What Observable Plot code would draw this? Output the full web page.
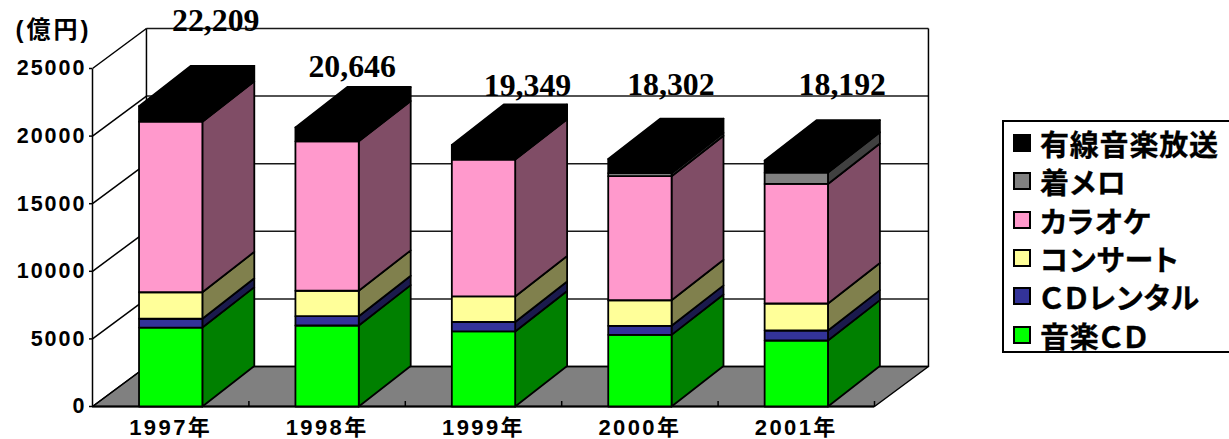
<!DOCTYPE html>
<html lang="ja">
<head>
<meta charset="utf-8">
<script src="https://cdn.jsdelivr.net/npm/d3@7"></script>
<script src="https://cdn.jsdelivr.net/npm/@observablehq/plot@0.6"></script>
<style>
  html, body { margin: 0; padding: 0; background: #fff; }
  body { position: relative; width: 1229px; height: 439px; overflow: hidden; }
  #chart svg { display: block; }
  g[aria-label="y-axis tick label"] text { letter-spacing: 2px; }
  #legend {
    position: absolute; left: 1002px; top: 120px; width: 240px; height: 229px;
    border: 2px solid #000; box-sizing: content-box; background: #fff;
    font: 700 29px "Noto Sans CJK JP", sans-serif; letter-spacing: 0.8px; color: #000;
    font-feature-settings: "palt"; -webkit-text-stroke: 0.3px #000;
  }
  #legend div { position: absolute; left: 9px; height: 38px; display: flex; align-items: center; white-space: nowrap; }
  #legend i { display: inline-block; width: 14px; height: 14px; border: 2px solid #000; margin-right: 9px; flex: none; }
</style>
</head>
<body>
<div id="chart"></div>
<div id="legend"></div>
<script>
// Japanese music market by segment, 100 million yen
const years = ["1997年", "1998年", "1999年", "2000年", "2001年"];
const musicCd = [5840, 5990, 5550, 5300, 4880];
const cdRental = [650, 690, 700, 670, 740];
const concerts = [1960, 1880, 1890, 1890, 2000];
const karaoke = [12616, 11050, 10120, 9175, 8840];
const ringtones = [0, 0, 0, 220, 836];
const wiredMusic = [1143, 1036, 1089, 1047, 896];
const yTicks = [0, 5000, 10000, 15000, 20000, 25000];

const segmentNames = ["音楽ＣＤ", "ＣＤレンタル", "コンサート", "カラオケ", "着メロ", "有線音楽放送"];
const segmentValues = [musicCd, cdRental, concerts, karaoke, ringtones, wiredMusic];
const frontColors = ["#00ff00", "#333399", "#ffff99", "#ff99cc", "#808080", "#000000"];
const sideColors = ["#008000", "#1a1a4d", "#80804d", "#804d66", "#404040", "#000000"];

// Oblique projection: depth of the box, in x-scale and y-scale units
const depthX = 0.345, depthY = 2960;
const barDepthX = 0.332, barDepthY = 2990;
const barWidth = 0.405;

// Every visible face of the stacked blocks, painted left to right and bottom to top
const faces = [];
function addFace(id, fill, corners) {
  for (const [x, y] of corners) faces.push({id, fill, x, y});
}
years.forEach((year, i) => {
  const x0 = i + 0.5 - barWidth / 2, x1 = i + 0.5 + barWidth / 2;
  let base = 0;
  segmentValues.forEach((values, s) => {
    const v = values[i];
    if (!v) return;
    const top = base + v;
    addFace(`${i}-${s}-side`, sideColors[s], [[x1, base], [x1 + barDepthX, base + barDepthY], [x1 + barDepthX, top + barDepthY], [x1, top]]);
    addFace(`${i}-${s}-front`, frontColors[s], [[x0, base], [x1, base], [x1, top], [x0, top]]);
    base = top;
  });
  addFace(`${i}-top`, "#000000", [[x0, base], [x1, base], [x1 + barDepthX, base + barDepthY], [x0 + barDepthX, base + barDepthY]]);
});

const totals = years.map((_, i) => d3.sum(segmentValues, values => values[i]));

// Total labels sit loosely above each block, each with its own offset
const labelDx = [45, 25, 44, 31, 46];
const labelDy = [85, 61, 59, 74, 76];

const floor = [[0, 0], [5, 0], [5 + depthX, depthY], [depthX, depthY]]
  .map(([x, y]) => ({x, y}));

const sansFont = '"Liberation Sans", "Noto Sans CJK JP", sans-serif';

const plot = Plot.plot({
  width: 1229,
  height: 439,
  marginLeft: 92,
  marginRight: 355,
  marginTop: 68,
  marginBottom: 33,
  style: {background: "#fff", overflow: "visible"},
  x: {domain: [0, 5], axis: null},
  y: {domain: [0, 25000], axis: null},
  color: {type: "identity"},
  marks: [
    // Floor of the box
    Plot.line(floor, {x: "x", y: "y", curve: "linear-closed", fill: "#808080", stroke: "#000", strokeWidth: 1.5}),
    // Gridlines on the back wall and the left wall
    Plot.link(yTicks, {x1: depthX, x2: 5 + depthX, y1: d => d + depthY, y2: d => d + depthY, stroke: "#000", strokeWidth: 1.5, strokeOpacity: 0.9}),
    Plot.link(yTicks, {x1: 0, x2: depthX, y1: d => d, y2: d => d + depthY, stroke: "#000", strokeWidth: 1.5}),
    // Vertical edges of the box
    Plot.link([0, depthX, 5 + depthX], {
      x1: d => d, x2: d => d,
      y1: d => (d === 0 ? 0 : depthY),
      y2: d => (d === 0 ? 25000 : 25000 + depthY),
      stroke: "#000", strokeWidth: 1.5
    }),
    // Floor front edge and its category ticks
    Plot.ruleY([0], {stroke: "#000", strokeWidth: 2}),
    Plot.ruleX([1, 2, 3, 4, 5], {y1: 0, y2: 370, stroke: "#000", strokeWidth: 1.5}),
    // Stacked blocks
    Plot.line(faces, {x: "x", y: "y", z: "id", curve: "linear-closed", fill: "fill", stroke: "#000", strokeWidth: 1.8}),
    // Axis labels
    Plot.axisY({
      ticks: yTicks, tickFormat: d => String(d), tickSize: 3, tickPadding: 3,
      stroke: "#000", strokeWidth: 1.5,
      fontFamily: sansFont, fontSize: 21.5, fontWeight: 700, fill: "#000", label: null
    }),
    Plot.text(years, {
      x: (_, i) => i + 0.5, y: 0, text: d => d, dy: 21,
      fontFamily: sansFont, fontSize: 22, fontWeight: 700, fill: "#000"
    }),
    Plot.text(["(億円)"], {
      x: 0, y: 25000, text: d => d, dx: -39, dy: -38,
      fontFamily: sansFont, fontSize: 24, fontWeight: 700, fill: "#000"
    }),
    // Market totals
    ...years.map((_, i) => Plot.text([totals[i]], {
      x: i + 0.5, y: d => d, text: d => d3.format(",")(d),
      dx: labelDx[i], dy: -labelDy[i],
      fontFamily: '"Liberation Serif", serif', fontSize: 31.8, fontWeight: 700, fill: "#000"
    }))
  ]
});
document.getElementById("chart").append(plot);

// Year and unit labels are set with wider tracking than the totals
const textGroups = plot.querySelectorAll('g[aria-label="text"]');
textGroups[0].style.letterSpacing = "2.4px";
textGroups[1].style.letterSpacing = "3px";

// Legend lists the segments from the top of the stack down
const legend = d3.select("#legend");
[5, 4, 3, 2, 1, 0].forEach((s, row) => {
  const item = legend.append("div").style("top", `${2 + row * 38.3}px`);
  item.append("i").style("background", frontColors[s]);
  item.append("span").text(segmentNames[s]);
});
</script>
</body>
</html>
